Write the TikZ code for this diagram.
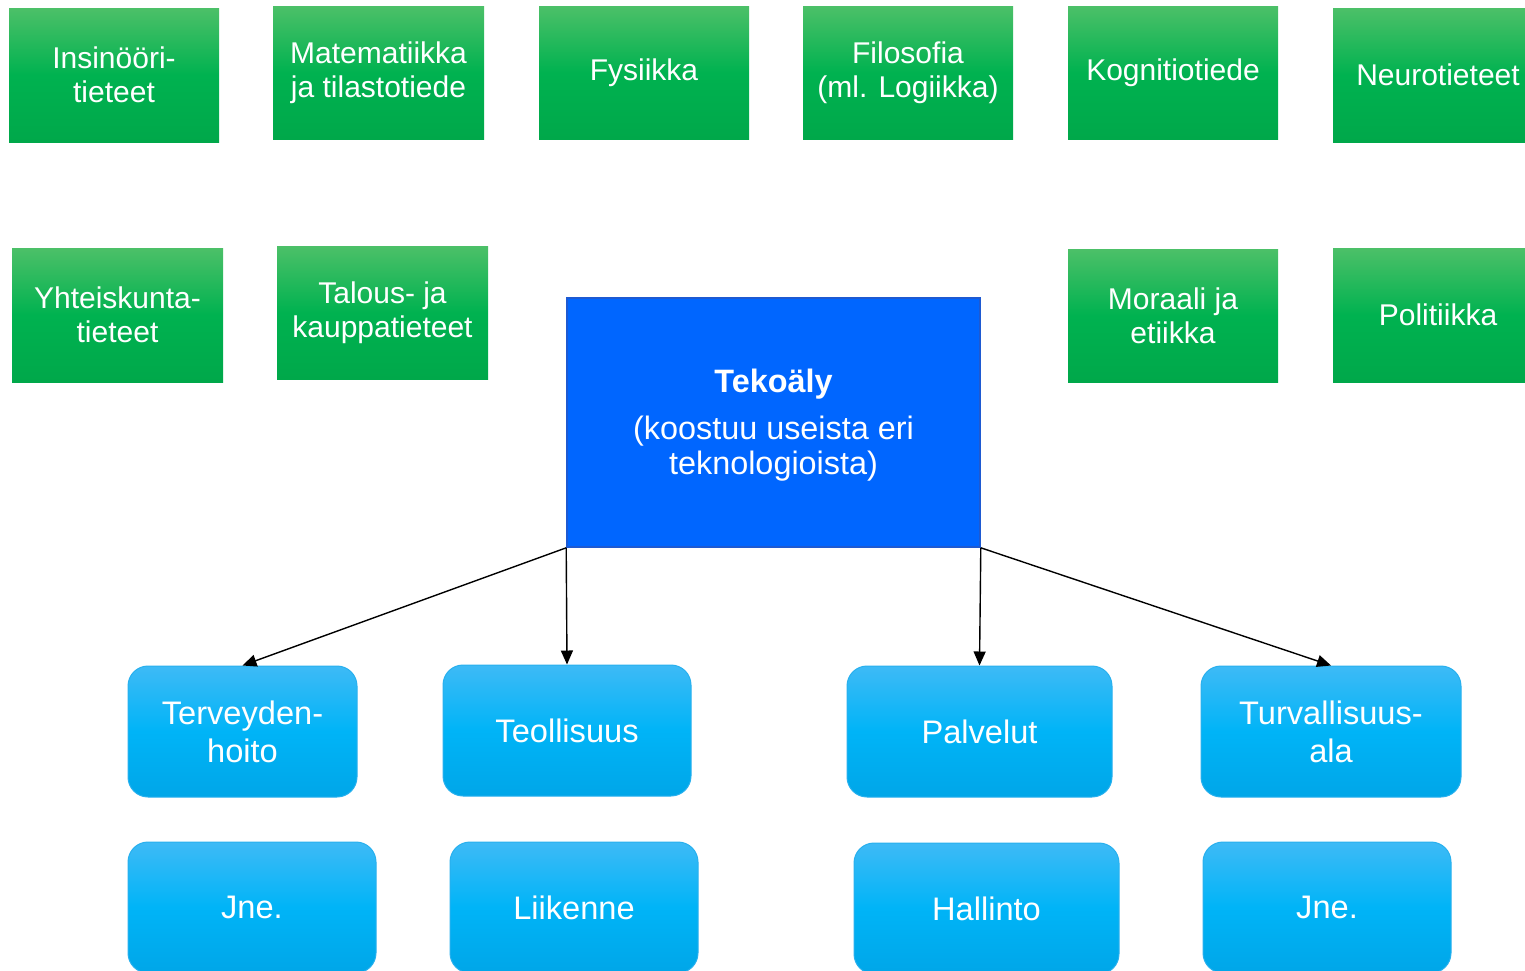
\documentclass[tikz,border=0pt]{standalone}
\usepackage{fontspec}
\setmainfont{Liberation Sans}
\usetikzlibrary{arrows.meta}
\definecolor{gtop}{RGB}{76,192,104}
\definecolor{gmid}{RGB}{0,178,80}
\definecolor{gbot}{RGB}{0,168,74}
\definecolor{btop}{RGB}{62,186,246}
\definecolor{bmid}{RGB}{0,180,247}
\definecolor{bbot}{RGB}{0,166,232}
\definecolor{bline}{RGB}{40,176,238}
\definecolor{tekfill}{RGB}{0,102,255}
\definecolor{tekline}{RGB}{30,90,210}
\tikzset{
  wh/.style 2 args={minimum width=#1*0.5pt, minimum height=#2*0.5pt},
  greenbox/.style={rectangle, inner sep=0pt, align=center, text=white,
    top color=gtop, bottom color=gbot, middle color=gmid,
    font=\fontsize{15}{17}\selectfont},
  bluebox/.style={rectangle, rounded corners=10pt, inner sep=0pt, align=center, text=white,
    draw=bline, line width=0.5pt,
    top color=btop, bottom color=bbot, middle color=bmid,
    font=\fontsize{16.3}{19}\selectfont},
  tekbox/.style={rectangle, inner sep=0pt, align=center, text=white,
    fill=tekfill, draw=tekline, line width=0.8pt,
    font=\fontsize{16.2}{17.5}\selectfont},
  arr/.style={-{Triangle[length=7pt,width=6pt]}, line width=0.7pt, black}
}
\begin{document}
\begin{tikzpicture}[x=0.5pt,y=-0.5pt]
\useasboundingbox (0,0) rectangle (1525,970);
\begin{scope}
\clip (0,0) rectangle (1525,970);
% green boxes
\node[greenbox, wh={210}{134}] (g1) at (114,75) {Insinööri-\\tieteet};
\node[greenbox, wh={211}{133}] (g2) at (378.5,72.5) {Matematiikka\\ja tilastotiede};
\node[greenbox, wh={210}{133}] (g3) at (644,72.5) {Fysiikka};
\node[greenbox, wh={210}{133}] (g4) at (908,72.5) {Filosofia\\(ml. Logiikka)};
\node[greenbox, wh={210}{133}] (g5) at (1173,72.5) {Kognitiotiede};
\node[greenbox, wh={210}{134}] (g6) at (1438,75) {Neurotieteet};
\node[greenbox, wh={211}{134}] (g7) at (117.5,315) {Yhteiskunta-\\tieteet};
\node[greenbox, wh={211}{133}] (g8) at (382.5,312.5) {Talous- ja\\kauppatieteet};
\node[greenbox, wh={210}{133}] (g9) at (1173,315.5) {Moraali ja\\etiikka};
\node[greenbox, wh={210}{134}] (g10) at (1438,315) {Politiikka};
% central
\node[tekbox, wh={413}{249}] (tek) at (773.5,422.5) {};
\node[text=white, align=center, inner sep=0pt, font=\fontsize{16.2}{17.5}\selectfont] (tektext) at (773.5,425.5) {\textbf{Tekoäly}\\[6pt](koostuu useista eri\\teknologioista)};
% blue boxes
\node[bluebox, wh={229}{131}] (b1) at (242.5,731.5) {Terveyden-\\hoito};
\node[bluebox, wh={248}{131}] (b2) at (567,730.5) {Teollisuus};
\node[bluebox, wh={265}{131}] (b3) at (979.5,731.5) {Palvelut};
\node[bluebox, wh={260}{131}] (b4) at (1331,731.5) {Turvallisuus-\\ala};
\node[bluebox, wh={248}{131}] (b5) at (252,907.5) {Jne.};
\node[bluebox, wh={248}{131}] (b6) at (574,907.5) {Liikenne};
\node[bluebox, wh={265}{131}] (b7) at (986.5,908.5) {Hallinto};
\node[bluebox, wh={248}{131}] (b8) at (1327,907.5) {Jne.};
% arrows
\draw[arr] (tek.south west) -- (b1.north);
\draw[arr] (tek.south west) -- (b2.north);
\draw[arr] (tek.south east) -- (b3.north);
\draw[arr] (tek.south east) -- (b4.north);
\end{scope}
\end{tikzpicture}
\end{document}
